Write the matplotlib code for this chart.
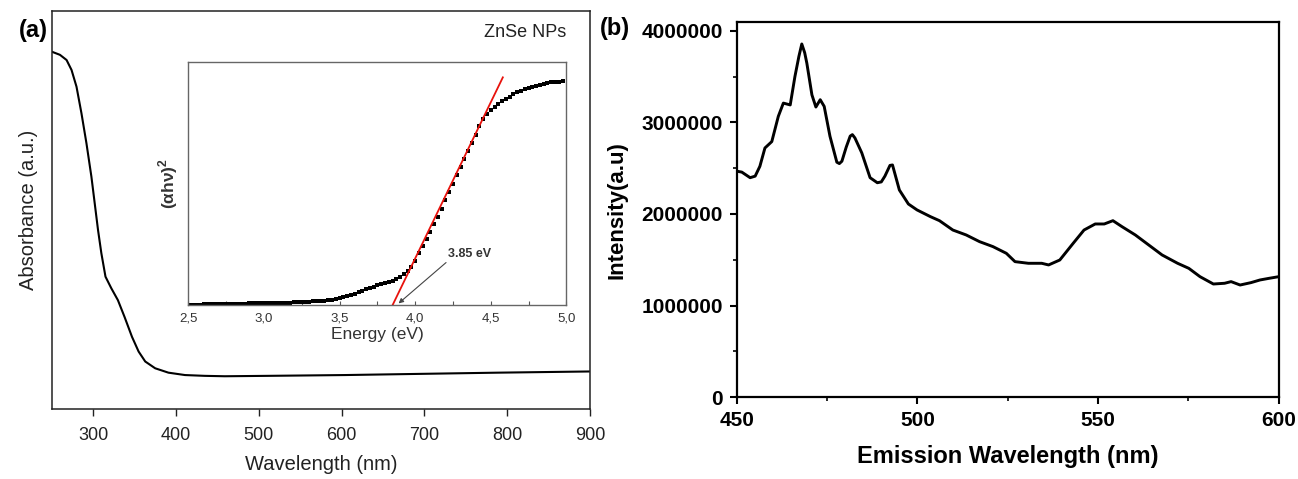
import matplotlib
matplotlib.use("Agg")
import matplotlib.pyplot as plt
from matplotlib.ticker import MultipleLocator, FixedLocator

plt.rcParams['font.family'] = ['Liberation Sans', 'DejaVu Sans']
plt.rcParams['mathtext.fontset'] = 'custom'
plt.rcParams['mathtext.rm'] = 'Liberation Sans'
plt.rcParams['mathtext.bf'] = 'Liberation Sans:bold'

# ---------------- Panel (a): absorbance ----------------
abs_wl = [250, 260, 268, 274, 280, 286, 292, 298, 302, 306, 310, 315, 322, 330,
          338, 347, 355, 363, 375, 391, 411, 435, 459, 511, 604, 696, 789, 900]
abs_val = [0.898, 0.890, 0.877, 0.852, 0.810, 0.743, 0.668, 0.584, 0.517, 0.450,
           0.392, 0.333, 0.304, 0.274, 0.232, 0.182, 0.145, 0.120, 0.103, 0.092,
           0.086, 0.084, 0.083, 0.084, 0.086, 0.089, 0.092, 0.095]
abs_xticks = [300, 400, 500, 600, 700, 800, 900]

# Inset: Tauc plot (alpha h nu)^2 vs energy
tauc_E = [2.500, 2.525, 2.550, 2.575, 2.600, 2.625, 2.650, 2.675, 2.700, 2.725,
          2.750, 2.775, 2.800, 2.825, 2.850, 2.875, 2.900, 2.925, 2.950, 2.975,
          3.000, 3.025, 3.050, 3.075, 3.100, 3.125, 3.150, 3.175, 3.200, 3.225,
          3.250, 3.275, 3.300, 3.325, 3.350, 3.375, 3.400, 3.425, 3.450, 3.475,
          3.500, 3.525, 3.550, 3.575, 3.600, 3.625, 3.650, 3.675, 3.700, 3.725,
          3.750, 3.775, 3.800, 3.825, 3.850, 3.875, 3.900, 3.925, 3.950, 3.975,
          4.000, 4.025, 4.050, 4.075, 4.100, 4.125, 4.150, 4.175, 4.200, 4.225,
          4.250, 4.275, 4.300, 4.325, 4.350, 4.375, 4.400, 4.425, 4.450, 4.475,
          4.500, 4.525, 4.550, 4.575, 4.600, 4.625, 4.650, 4.675, 4.700, 4.725,
          4.750, 4.775, 4.800, 4.825, 4.850, 4.875, 4.900, 4.925, 4.950, 4.975]
tauc_val = [0.003, 0.003, 0.003, 0.003, 0.004, 0.004, 0.004, 0.004, 0.005, 0.005,
            0.005, 0.005, 0.006, 0.006, 0.006, 0.007, 0.008, 0.008, 0.008, 0.008,
            0.009, 0.009, 0.009, 0.010, 0.010, 0.010, 0.011, 0.011, 0.012, 0.013,
            0.014, 0.014, 0.015, 0.016, 0.017, 0.018, 0.019, 0.020, 0.023, 0.026,
            0.030, 0.034, 0.037, 0.042, 0.048, 0.054, 0.060, 0.066, 0.071, 0.077,
            0.083, 0.088, 0.093, 0.097, 0.101, 0.107, 0.117, 0.128, 0.141, 0.158,
            0.182, 0.214, 0.243, 0.271, 0.302, 0.333, 0.365, 0.398, 0.432, 0.466,
            0.500, 0.534, 0.568, 0.601, 0.635, 0.669, 0.702, 0.736, 0.766, 0.786,
            0.804, 0.817, 0.828, 0.838, 0.847, 0.857, 0.867, 0.876, 0.883, 0.888,
            0.892, 0.897, 0.902, 0.907, 0.911, 0.914, 0.916, 0.917, 0.919, 0.920]
fit_E = [3.845, 4.58]
fit_val = [-0.006, 0.937]
tauc_ticks = [2.5, 3.0, 3.5, 4.0, 4.5, 5.0]
tauc_ticklabels = ['2,5', '3,0', '3,5', '4,0', '4,5', '5,0']

# ---------------- Panel (b): PL emission ----------------
pl_wl = [450.0, 451.4, 453.7, 455.1, 456.4, 457.8, 459.7, 461.5, 462.9, 464.8,
         466.1, 467.2, 468.0, 468.8, 469.4, 470.8, 471.9, 473.1, 474.2, 475.8,
         477.7, 478.4, 479.1, 480.3, 481.4, 482.0, 482.7, 484.6, 486.9, 488.9,
         490.0, 491.0, 492.4, 493.1, 495.0, 497.5, 499.9, 503.6, 506.1, 509.8,
         513.5, 517.2, 520.9, 524.6, 527.0, 530.7, 534.4, 536.3, 539.4, 543.1,
         546.1, 549.2, 551.7, 554.1, 556.6, 560.3, 564.0, 567.7, 572.0, 575.1,
         578.2, 581.9, 585.0, 586.8, 589.3, 592.3, 594.8, 597.3, 600.0]
pl_int = [2467000, 2457000, 2396000, 2413000, 2520000, 2720000, 2790000, 3065000,
          3210000, 3190000, 3500000, 3720000, 3855000, 3760000, 3645000, 3300000,
          3167000, 3247000, 3174000, 2848000, 2565000, 2550000, 2576000, 2730000,
          2850000, 2866000, 2830000, 2667000, 2396000, 2341000, 2350000, 2413000,
          2530000, 2535000, 2262000, 2109000, 2044000, 1971000, 1927000, 1825000,
          1771000, 1698000, 1644000, 1571000, 1480000, 1462000, 1462000, 1444000,
          1498000, 1680000, 1825000, 1891000, 1891000, 1927000, 1862000, 1771000,
          1662000, 1553000, 1462000, 1407000, 1316000, 1236000, 1244000, 1262000,
          1225000, 1251000, 1280000, 1298000, 1316000]
pl_xticks = [450, 500, 550, 600]
pl_yticks = [0, 1000000, 2000000, 3000000, 4000000]

fig = plt.figure(figsize=(12.98, 4.79), dpi=100)

# ---- Panel (a)
axa = fig.add_axes([0.0398, 0.1455, 0.4147, 0.8315])
axa.plot(abs_wl, abs_val, color='black', lw=1.5)
axa.set_xlim(250, 900)
axa.set_ylim(0, 1)
axa.set_xticks(abs_xticks)
axa.set_yticks([])
axa.tick_params(axis='x', direction='out', length=5, width=1, labelsize=13,
                pad=8, colors='#222222', labelcolor='#222222')
for s in axa.spines.values():
    s.set_color('#222222')
    s.set_linewidth(1.1)
axa.set_xlabel('Wavelength (nm)', fontsize=14.5, color='#222222', labelpad=8)
axa.set_ylabel('Absorbance (a.u.)', fontsize=14.5, color='#222222', labelpad=10)
axa.text(0.880, 0.945, 'ZnSe NPs', transform=axa.transAxes, fontsize=13,
         ha='center', va='center', color='#222222')
fig.text(33 / 1298, 1 - 31 / 479, '(a)', fontsize=17, fontweight='bold',
         ha='center', va='center')

# ---- Inset
axi = fig.add_axes([0.1452, 0.3625, 0.2911, 0.5080])
axi.plot(tauc_E, tauc_val, linestyle='none', color='black', marker='s', ms=2.4,
         markeredgewidth=0)
axi.plot(fit_E, fit_val, color='#e8120c', lw=1.3)
axi.set_xlim(2.5, 5.0)
axi.set_ylim(0, 1)
axi.xaxis.set_major_locator(FixedLocator(tauc_ticks))
axi.set_xticklabels(tauc_ticklabels)
axi.xaxis.set_minor_locator(MultipleLocator(0.25))
axi.set_yticks([])
axi.tick_params(axis='x', which='both', direction='in', length=3, width=0.8,
                labelsize=9.5, pad=5, colors='#555555', labelcolor='#333333')
for s in axi.spines.values():
    s.set_color('#666666')
    s.set_linewidth(1.0)
axi.set_xlabel('Energy (eV)', fontsize=12.5, color='#333333', labelpad=2)
axi.set_ylabel(r'(αhν)$^{\mathbf{2}}$', fontsize=12.5, fontweight='bold',
               color='#333333', labelpad=6)
axi.annotate('3.85 eV', xy=(3.89, 0.008), xytext=(4.22, 0.212),
             fontsize=9, fontweight='bold', color='#333333', va='center',
             ha='left',
             arrowprops=dict(arrowstyle='-|>', color='#444444', lw=0.8,
                             mutation_scale=7, shrinkA=0, shrinkB=0,
                             relpos=(0.02, 0.0)))

# ---- Panel (b)
axb = fig.add_axes([0.5676, 0.1706, 0.4176, 0.7835])
axb.plot(pl_wl, pl_int, color='black', lw=2.1, solid_joinstyle='round')
axb.set_xlim(450, 600)
axb.set_ylim(0, 4095000)
axb.set_xticks(pl_xticks)
axb.set_yticks(pl_yticks)
axb.set_yticklabels([str(v) for v in pl_yticks])
axb.xaxis.set_minor_locator(MultipleLocator(25))
axb.yaxis.set_minor_locator(MultipleLocator(500000))
axb.tick_params(which='major', direction='out', length=5, width=1.5,
                labelsize=15, pad=5)
axb.tick_params(which='minor', direction='out', length=3, width=1.2)
for lab in axb.get_xticklabels() + axb.get_yticklabels():
    lab.set_fontweight('bold')
for s in axb.spines.values():
    s.set_linewidth(1.6)
axb.set_xlabel('Emission Wavelength (nm)', fontsize=17, fontweight='bold',
               labelpad=11)
axb.set_ylabel('Intensity(a.u)', fontsize=16, fontweight='bold', labelpad=10)
fig.text(615 / 1298, 1 - 29 / 479, '(b)', fontsize=17, fontweight='bold',
         ha='center', va='center')

fig.savefig('out.png', dpi=100)
